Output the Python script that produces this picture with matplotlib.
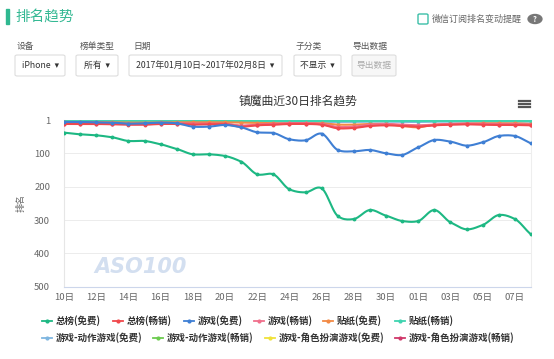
import numpy as np
import matplotlib
matplotlib.use("Agg")
import matplotlib.pyplot as plt
from matplotlib.patches import FancyBboxPatch, Rectangle, Circle
from matplotlib.lines import Line2D

plt.rcParams['font.family'] = ['Noto Sans CJK SC', 'DejaVu Sans']

# ---------------- data ----------------
x_labels = ["10日", "12日", "14日", "16日", "18日", "20日", "22日", "24日",
            "26日", "28日", "30日", "01日", "03日", "05日", "07日"]
n_days = 30

zongbang_free = [38, 43, 46, 52, 63, 63, 73, 87, 103, 103, 108, 125, 163, 163, 208,
                 217, 205, 288, 297, 270, 287, 303, 303, 270, 307, 328, 315, 285, 297, 343]
zongbang_paid = [12, 12, 12, 13, 14, 14, 12, 12, 14, 13, 13, 20, 16, 14, 12,
                 12, 14, 25, 24, 18, 16, 18, 20, 16, 14, 13, 14, 15, 15, 16]
game_free = [6, 6, 7, 8, 11, 10, 8, 10, 20, 20, 15, 22, 37, 39, 58,
             61, 41, 90, 94, 90, 100, 105, 82, 60, 65, 77, 67, 48, 48, 70]
game_paid = [10, 10, 10, 11, 12, 12, 10, 10, 11, 11, 12, 17, 14, 12, 10,
             10, 12, 21, 20, 14, 12, 14, 16, 14, 12, 11, 12, 13, 13, 14]
sticker_free = [6, 6, 6, 7, 8, 8, 7, 7, 7, 7, 7, 8, 9, 10, 10,
                10, 10, 14, 14, 12, 12, 18, 22, 14, 12, 11, 10, 10, 10, 12]
sticker_paid = [3] * 30
action_free = [5, 5, 5, 5, 6, 6, 5, 5, 6, 6, 5, 6, 6, 6, 5,
               5, 6, 6, 6, 5, 5, 6, 6, 5, 5, 5, 5, 5, 5, 5]
action_paid = [2] * 30
rpg_free = [2] * 30
rpg_paid = [11, 11, 11, 12, 13, 13, 11, 11, 12, 12, 12, 18, 15, 13, 11,
            11, 13, 23, 22, 16, 14, 16, 18, 15, 13, 12, 13, 14, 14, 15]

series_names = ["总榜(免费)", "总榜(畅销)", "游戏(免费)", "游戏(畅销)", "贴纸(免费)",
                "贴纸(畅销)", "游戏-动作游戏(免费)", "游戏-动作游戏(畅销)",
                "游戏-角色扮演游戏(免费)", "游戏-角色扮演游戏(畅销)"]
series_values = [zongbang_free, zongbang_paid, game_free, game_paid, sticker_free,
                 sticker_paid, action_free, action_paid, rpg_free, rpg_paid]
series_colors = ["#1db883", "#f0484c", "#3f7fd4", "#f0708c", "#f28a45",
                 "#3fd4b0", "#7fb6e0", "#6ccb4f", "#f0e23a", "#d0386a"]
y_ticks = [1, 100, 200, 300, 400, 500]

# ---------------- figure ----------------
W, H = 554, 359
fig = plt.figure(figsize=(W / 100, H / 100), dpi=100)
fig.patch.set_facecolor("white")


def fx(x):
    return x / W


def fy(y):
    return 1 - y / H


def ftext(x, y, s, **kw):
    fig.text(fx(x), fy(y), s, **kw)


# header
fig.add_artist(Rectangle((fx(6), fy(24)), fx(3), 15 / H, color="#2fb890",
                         transform=fig.transFigure))
ftext(15, 17, "排名趋势", fontsize=10.5, color="#35b994", va="center", ha="left")
fig.add_artist(FancyBboxPatch((fx(418), fy(24)), fx(10), 10 / H,
                              boxstyle="round,pad=0,rounding_size=0.003",
                              fc="white", ec="#3dbfa8", lw=1.0,
                              transform=fig.transFigure))
ftext(432, 19, "微信订阅排名变动提醒", fontsize=6.5, color="#666", va="center", ha="left")
fig.add_artist(Circle((fx(535), fy(19)), 4.5 / H, color="#777",
                      transform=fig.transFigure))
ftext(535, 19.5, "?", fontsize=5.5, color="white", va="center", ha="center",
      fontweight="bold")

# controls
labels_ctrl = [(17, "设备"), (80, "榜单类型"), (133, "日期"), (296, "子分类"), (352, "导出数据")]
for x, s in labels_ctrl:
    ftext(x, 46, s, fontsize=6.3, color="#555", va="center", ha="left")

boxes = [(15, 65, "iPhone  ▾", "#333"), (76, 118, "所有  ▾", "#333"),
         (129, 282, "2017年01月10日~2017年02月8日  ▾", "#333"),
         (294, 341, "不显示  ▾", "#333"), (352, 396, "导出数据", "#aaa")]
for x0, x1, s, c in boxes:
    fig.add_artist(FancyBboxPatch((fx(x0), fy(76)), fx(x1 - x0), 21 / H,
                                  boxstyle="round,pad=0,rounding_size=0.004",
                                  fc="#f7f7f7" if c == "#aaa" else "white",
                                  ec="#dddddd", lw=0.8,
                                  transform=fig.transFigure))
    ftext((x0 + x1) / 2, 65.5, s, fontsize=6.3, color=c, va="center", ha="center")

# chart title and menu
ftext(298, 101, "镇魔曲近30日排名趋势", fontsize=8.5, color="#333", va="center", ha="center")
for yy in (100.5, 104, 107.5):
    fig.add_artist(Line2D([fx(519), fx(530)], [fy(yy), fy(yy)], color="#555",
                          lw=1.6, transform=fig.transFigure))

# axes
ax_left, ax_right = 64, 531
ax_top, ax_bot = 120.3, 286.7
ax = fig.add_axes([fx(ax_left), fy(ax_bot), fx(ax_right - ax_left), (ax_bot - ax_top) / H])
ax.set_xlim(0, n_days - 1)
ax.set_ylim(500, 1)
ax.set_facecolor("none")
ax.spines["top"].set_visible(False)
ax.spines["bottom"].set_color("#ccd6eb")
ax.spines["left"].set_color("#e6e6e6")
ax.spines["right"].set_color("#eeeeee")
ax.spines["left"].set_linewidth(0.8)
ax.spines["right"].set_linewidth(0.8)
ax.set_yticks(y_ticks)
ax.set_yticklabels([str(t) for t in y_ticks])
ax.set_xticks(np.arange(0, n_days, 2))
ax.set_xticklabels(x_labels)
ax.tick_params(axis="both", length=0, labelsize=6.8, colors="#666")
ax.tick_params(axis="y", pad=10)
ax.tick_params(axis="x", pad=4.5)
for t in (100, 200, 300, 400):
    ax.axhline(t, color="#ececec", lw=0.7, zorder=0)
ax.set_ylabel("排名", fontsize=6.5, color="#666", labelpad=6)

ax.text(0.065, 0.085, "ASO100", transform=ax.transAxes, fontsize=15, color="#d3dff0",
        fontstyle="italic", fontweight="bold", family="DejaVu Sans",
        zorder=0)


def spline(xs, ys, k=12):
    xs = np.asarray(xs, float)
    ys = np.asarray(ys, float)
    n = len(xs)
    m = np.zeros(n)
    m[1:-1] = (ys[2:] - ys[:-2]) / (xs[2:] - xs[:-2])
    m[0] = (ys[1] - ys[0]) / (xs[1] - xs[0])
    m[-1] = (ys[-1] - ys[-2]) / (xs[-1] - xs[-2])
    m *= 0.8
    ox, oy = [], []
    for i in range(n - 1):
        h = xs[i + 1] - xs[i]
        t = np.linspace(0, 1, k, endpoint=False)
        h00 = 2 * t**3 - 3 * t**2 + 1
        h10 = t**3 - 2 * t**2 + t
        h01 = -2 * t**3 + 3 * t**2
        h11 = t**3 - t**2
        ox.extend(xs[i] + t * h)
        oy.extend(h00 * ys[i] + h10 * h * m[i] + h01 * ys[i + 1] + h11 * h * m[i + 1])
    ox.append(xs[-1])
    oy.append(ys[-1])
    return np.array(ox), np.array(oy)


days = np.arange(n_days)
order = [7, 8, 6, 5, 4, 9, 3, 1, 2, 0]
for rank_z, i in enumerate(order):
    vals = series_values[i]
    sx, sy = spline(days, vals)
    ax.plot(sx, sy, color=series_colors[i], lw=1.5, zorder=3 + rank_z * 0.1,
            solid_capstyle="round")
    ax.plot(days, vals, "o", color=series_colors[i], ms=1.8, zorder=3 + rank_z * 0.1)

# legend
legend_pos = [(42, 321), (113, 321), (184, 321), (254, 321), (323, 321), (395, 321),
              (42, 338), (153, 338), (265, 338), (395, 338)]
for (x, y), name, c in zip(legend_pos, series_names, series_colors):
    fig.add_artist(Line2D([fx(x), fx(x + 10)], [fy(y), fy(y)], color=c, lw=1.3,
                          transform=fig.transFigure))
    fig.add_artist(Line2D([fx(x + 5)], [fy(y)], color=c, marker="o", ms=2,
                          transform=fig.transFigure))
    ftext(x + 14, y, name, fontsize=6.8, color="#333", va="center", ha="left",
          fontweight="bold")

fig.savefig("out.png", dpi=100, facecolor="white")
